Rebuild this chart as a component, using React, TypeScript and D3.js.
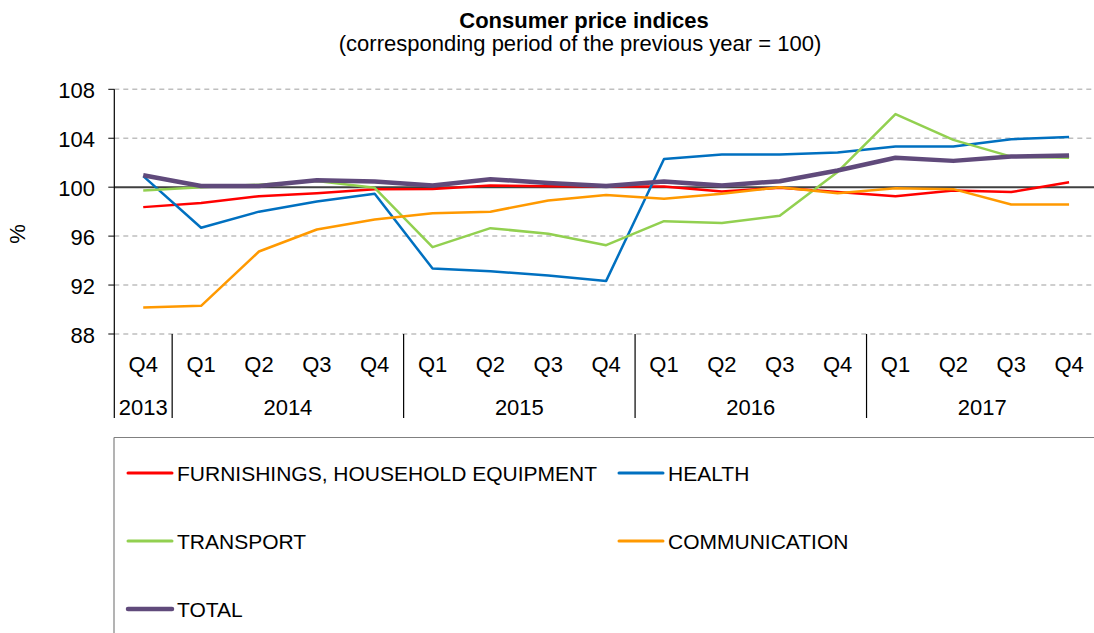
import React from "react";
import * as d3 from "d3";

const quarters = ["Q4","Q1","Q2","Q3","Q4","Q1","Q2","Q3","Q4","Q1","Q2","Q3","Q4","Q1","Q2","Q3","Q4"];
const years = [
  { label: "2013", start: 0, end: 1 },
  { label: "2014", start: 1, end: 5 },
  { label: "2015", start: 5, end: 9 },
  { label: "2016", start: 9, end: 13 },
  { label: "2017", start: 13, end: 17 },
];
const yTicks = [88, 92, 96, 100, 104, 108];

const furnishings = [98.37, 98.7, 99.26, 99.5, 99.84, 99.86, 100.14, 100.08, 100.05, 100.05, 99.65, 99.95, 99.6, 99.26, 99.73, 99.6, 100.4];
const health = [100.9, 96.68, 98.0, 98.83, 99.46, 93.35, 93.13, 92.78, 92.34, 102.3, 102.67, 102.67, 102.83, 103.32, 103.32, 103.92, 104.1];
const transport = [99.73, 100.0, 100.2, 100.5, 99.95, 95.1, 96.65, 96.19, 95.26, 97.22, 97.08, 97.66, 101.25, 105.97, 103.87, 102.5, 102.4];
const communication = [90.16, 90.3, 94.74, 96.54, 97.36, 97.87, 98.0, 98.91, 99.37, 99.05, 99.46, 100.0, 99.5, 99.92, 99.84, 98.58, 98.58];
const total = [100.98, 100.1, 100.1, 100.57, 100.46, 100.14, 100.65, 100.35, 100.1, 100.46, 100.14, 100.49, 101.36, 102.4, 102.15, 102.5, 102.59];

const series = [
  { name: "FURNISHINGS, HOUSEHOLD EQUIPMENT", values: furnishings, color: "#FF0000", width: 2.5 },
  { name: "HEALTH", values: health, color: "#0070C0", width: 2.5 },
  { name: "TRANSPORT", values: transport, color: "#92D050", width: 2.5 },
  { name: "COMMUNICATION", values: communication, color: "#FF9900", width: 2.5 },
  { name: "TOTAL", values: total, color: "#604A7B", width: 4.5 },
];

const W = 1094, H = 633;
const left = 114.3, right = 1098, top = 89.3, bottom = 334;

export default function App() {
  const x = d3.scaleBand<number>().domain(d3.range(quarters.length)).range([left, right]).padding(0);
  const y = d3.scaleLinear().domain([88, 108]).range([bottom, top]);
  const line = d3.line<number>().x((_, i) => (x(i) as number) + x.bandwidth() / 2).y((d) => y(d));
  const font = "'Liberation Sans', Arial, sans-serif";

  const legendPos = [
    { x: 128, y: 473 },
    { x: 619, y: 473 },
    { x: 128, y: 541 },
    { x: 619, y: 541 },
    { x: 128, y: 609 },
  ];

  return (
    <svg width={W} height={H} style={{ position: "absolute", left: 0, top: 0, background: "#fff" }} fontFamily={font}>
      <rect x={0} y={0} width={W} height={H} fill="#fff" />
      <text x={584} y={28} textAnchor="middle" fontSize={22} fontWeight="bold" fill="#000">Consumer price indices</text>
      <text x={580} y={51} textAnchor="middle" fontSize={22} fill="#000">(corresponding period of the previous year = 100)</text>

      {yTicks.map((t) => (
        <g key={t}>
          {t !== 100 && (
            <line x1={left} x2={right} y1={y(t)} y2={y(t)} stroke="#BFBFBF" strokeWidth={1.5} strokeDasharray="5,4" />
          )}
          <line x1={left - 6} x2={left} y1={y(t)} y2={y(t)} stroke="#000" strokeWidth={1} />
          <text x={95} y={y(t) + 8.5} textAnchor="end" fontSize={22} fill="#000">{t}</text>
        </g>
      ))}
      <line x1={left} x2={right} y1={y(100)} y2={y(100)} stroke="#404040" strokeWidth={2} />
      <line x1={left} x2={left} y1={top} y2={418} stroke="#000" strokeWidth={1.2} />
      <text transform={`translate(25,234) rotate(-90)`} textAnchor="middle" fontSize={22} fill="#000">%</text>

      {quarters.map((q, i) => (
        <text key={i} x={(x(i) as number) + x.bandwidth() / 2} y={372} textAnchor="middle" fontSize={22} fill="#000">{q}</text>
      ))}
      {years.map((yr) => {
        const x0 = x(yr.start) as number;
        const x1 = yr.end >= quarters.length ? right : (x(yr.end) as number);
        return (
          <g key={yr.label}>
            <text x={(x0 + x1) / 2} y={415} textAnchor="middle" fontSize={22} fill="#000">{yr.label}</text>
            {yr.end < quarters.length && (
              <line x1={x1} x2={x1} y1={bottom} y2={418} stroke="#000" strokeWidth={1.2} />
            )}
          </g>
        );
      })}

      {series.map((s) => (
        <path key={s.name} d={line(s.values) || ""} fill="none" stroke={s.color} strokeWidth={s.width} strokeLinejoin="round" />
      ))}

      <line x1={114} x2={W} y1={437.5} y2={437.5} stroke="#808080" strokeWidth={1.2} />
      <line x1={114} x2={114} y1={437.5} y2={H} stroke="#808080" strokeWidth={1.2} />
      {series.map((s, i) => (
        <g key={s.name}>
          <line x1={legendPos[i].x} x2={legendPos[i].x + 44} y1={legendPos[i].y} y2={legendPos[i].y} stroke={s.color} strokeWidth={s.width === 2.5 ? 3 : 4.5} strokeLinecap="round" />
          <text x={legendPos[i].x + 49} y={legendPos[i].y + 7.5} fontSize={21} fill="#000">{s.name}</text>
        </g>
      ))}
    </svg>
  );
}
